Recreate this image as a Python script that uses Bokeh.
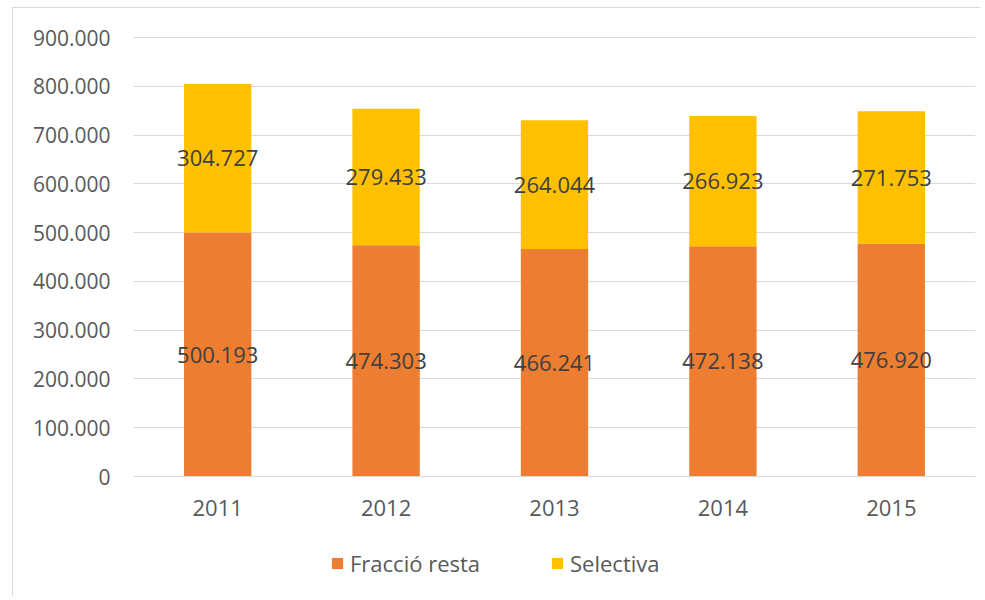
from bokeh.plotting import figure
from bokeh.models import ColumnDataSource, Legend, LegendItem, FixedTicker, Range1d
from bokeh.core.properties import value
from bokeh.embed import file_html
from bokeh.resources import INLINE

years = ["2011", "2012", "2013", "2014", "2015"]
fraccio_resta = [500193, 474303, 466241, 472138, 476920]
selectiva = [304727, 279433, 264044, 266923, 271753]
y_ticks = [0, 100000, 200000, 300000, 400000, 500000, 600000, 700000, 800000, 900000]

ORANGE = "#ED7D31"
GOLD = "#FFC000"
FONT = "Open Sans"

# layout (pixels)
W, H = 980, 596
TOP, BOTTOM_BORDER, LEFT, RIGHT = 36, 4, 133, 5
PX_TOP_TICK, PX_ZERO = 37, 476          # page pixel of 900.000 and of 0
units_per_px = y_ticks[-1] / (PX_ZERO - PX_TOP_TICK)
y_end = y_ticks[-1] + (PX_TOP_TICK - TOP) * units_per_px
y_start = -((H - BOTTOM_BORDER) - PX_ZERO) * units_per_px


def fmt(v):
    return "0" if v == 0 else f"{v:,}".replace(",", ".")


src = ColumnDataSource(dict(x=years, fr=fraccio_resta, sel=selectiva))

p = figure(x_range=years, y_range=Range1d(y_start, y_end), width=W, height=H,
           output_backend="svg", toolbar_location=None,
           min_border_left=LEFT, min_border_right=RIGHT, min_border_top=TOP,
           min_border_bottom=BOTTOM_BORDER)
p.border_fill_color = None
p.background_fill_color = None
p.styles = {
    "background": "linear-gradient(#d9d9d9,#d9d9d9) 12px 7px / 1px 100% no-repeat, "
                  "linear-gradient(#d9d9d9,#d9d9d9) 12px 7px / 100% 1px no-repeat, white"
}
p.outline_line_color = None
p.x_range.range_padding = 0

rs = p.vbar_stack(["fr", "sel"], x="x", width=0.4, color=[ORANGE, GOLD], source=src, line_color=None)

# data labels
lab_x, lab_y, lab_t = [], [], []
for yr, a, b in zip(years, fraccio_resta, selectiva):
    lab_x += [yr, yr]
    lab_y += [a / 2, a + b / 2]
    lab_t += [fmt(a), fmt(b)]
p.text(x=lab_x, y=lab_y, text=lab_t, text_align="center", text_baseline="middle",
       text_font=value(FONT), text_font_size="22px", text_color="#404040")

# axes
p.yaxis.ticker = FixedTicker(ticks=y_ticks)
p.yaxis.major_label_overrides = {t: fmt(t) for t in y_ticks}
p.yaxis.axis_line_color = None
p.yaxis.major_tick_line_color = None
p.yaxis.minor_tick_line_color = None
p.yaxis.major_label_standoff = 17
p.yaxis.major_label_text_font = FONT
p.yaxis.major_label_text_font_size = "21px"
p.yaxis.major_label_text_color = "#595959"

p.xaxis.fixed_location = 0
p.xaxis.axis_line_color = "#d9d9d9"
p.xaxis.axis_line_width = 1
p.xaxis.major_tick_line_color = None
p.xaxis.minor_tick_line_color = None
p.xaxis.major_label_standoff = 17
p.xaxis.major_label_text_font = FONT
p.xaxis.major_label_text_font_size = "22px"
p.xaxis.major_label_text_color = "#595959"

p.xgrid.grid_line_color = None
p.ygrid.grid_line_color = "#d9d9d9"
p.ygrid.grid_line_width = 1

legend = Legend(items=[LegendItem(label="Fracció resta", renderers=[rs[0]]),
                       LegendItem(label="Selectiva", renderers=[rs[1]])],
                location=(197, 14), orientation="horizontal",
                glyph_width=14, glyph_height=14, label_standoff=6, spacing=70,
                padding=0, margin=0, border_line_color=None, background_fill_alpha=0,
                label_text_font=FONT, label_text_font_size="22px", label_text_color="#595959")
p.add_layout(legend, "center")

open("out.html", "w").write(file_html(p, INLINE))
